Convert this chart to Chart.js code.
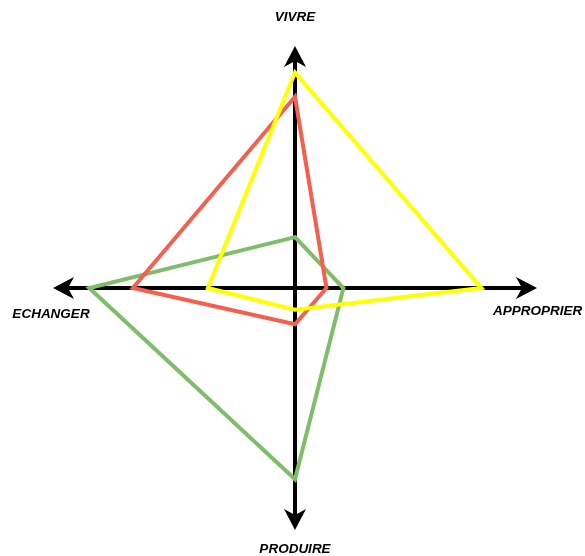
<!DOCTYPE html>
<html>
<head>
<meta charset="utf-8">
<script src="https://cdn.jsdelivr.net/npm/chart.js@4"></script>
<style>
html,body{margin:0;padding:0;background:#fff;}
#wrap{width:585px;height:556px;position:relative;}
</style>
</head>
<body>
<div id="wrap"><canvas id="c" width="585" height="556"></canvas></div>
<script>
const categories = ['VIVRE', 'APPROPRIER', 'PRODUIRE', 'ECHANGER'];
const yellowValues = [8.9, 7.7, 0.9, 3.6];
const redValues = [7.9, 1.3, 1.5, 6.7];
const greenValues = [2.1, 2.0, 7.9, 8.5];
const scaleMax = 10;

const axisPlugin = {
  id: 'axisArrows',
  beforeDatasetsDraw(chart) {
    const s = chart.scales.r;
    const ctx = chart.ctx;
    const n = categories.length;
    ctx.save();
    ctx.strokeStyle = '#000';
    ctx.fillStyle = '#000';
    ctx.lineWidth = 4;
    ctx.lineCap = 'butt';
    for (let i = 0; i < n; i++) {
      const tip = s.getPointPosition(i, s.drawingArea);
      const ang = s.getIndexAngle(i) - Math.PI / 2;
      const ux = Math.cos(ang), uy = Math.sin(ang);
      const px = -uy, py = ux;
      const base = { x: tip.x - ux * 12, y: tip.y - uy * 12 };
      ctx.beginPath();
      ctx.moveTo(s.xCenter, s.yCenter);
      ctx.lineTo(base.x, base.y);
      ctx.stroke();
      // arrowhead
      const L = 21, W = 11, notch = 15;
      ctx.beginPath();
      ctx.moveTo(tip.x, tip.y);
      ctx.lineTo(tip.x - ux * L + px * W, tip.y - uy * L + py * W);
      ctx.lineTo(tip.x - ux * notch, tip.y - uy * notch);
      ctx.lineTo(tip.x - ux * L - px * W, tip.y - uy * L - py * W);
      ctx.closePath();
      ctx.fill();
    }
    // labels
    ctx.font = 'italic bold 13.5px "Liberation Sans", Arial, sans-serif';
    ctx.textBaseline = 'middle';
    const offs = [
      { dx: 0, dy: -29, align: 'center' },
      { dx: -44, dy: 23, align: 'left' },
      { dx: 0, dy: 19, align: 'center' },
      { dx: -2, dy: 26, align: 'center' }
    ];
    for (let i = 0; i < n; i++) {
      const tip = s.getPointPosition(i, s.drawingArea);
      ctx.textAlign = offs[i].align;
      ctx.fillText(categories[i], tip.x + offs[i].dx, tip.y + offs[i].dy);
    }
    ctx.restore();
  }
};

new Chart(document.getElementById('c'), {
  type: 'radar',
  data: {
    labels: categories,
    datasets: [
      { label: 'Jaune', data: yellowValues, borderColor: '#ffff00', backgroundColor: 'rgba(0,0,0,0)', borderWidth: 4, pointRadius: 0, fill: false },
      { label: 'Rouge', data: redValues, borderColor: '#f2604e', backgroundColor: 'rgba(0,0,0,0)', borderWidth: 4, pointRadius: 0, fill: false },
      { label: 'Vert', data: greenValues, borderColor: '#80bd6a', backgroundColor: 'rgba(0,0,0,0)', borderWidth: 4, pointRadius: 0, fill: false }
    ]
  },
  options: {
    responsive: false,
    animation: false,
    devicePixelRatio: 1,
    layout: { padding: { left: 53, right: 48, top: 46, bottom: 26 } },
    elements: { line: { tension: 0, borderJoinStyle: 'miter' } },
    plugins: { legend: { display: false }, tooltip: { enabled: false } },
    scales: {
      r: {
        min: 0,
        max: scaleMax,
        ticks: { display: false },
        grid: { display: false },
        angleLines: { display: false },
        pointLabels: { display: false }
      }
    }
  },
  plugins: [axisPlugin]
});
</script>
</body>
</html>
